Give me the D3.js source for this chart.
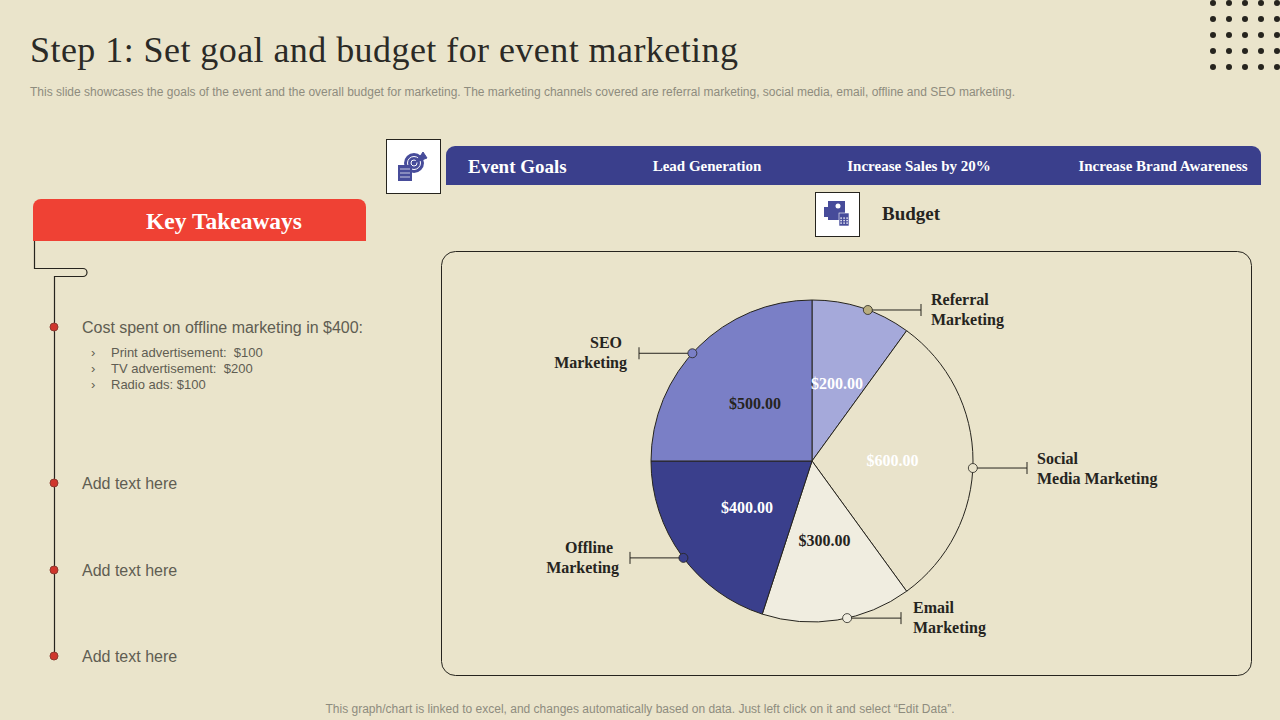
<!DOCTYPE html>
<html lang="en">
<head>
<meta charset="UTF-8">
<title>Step 1: Set goal and budget for event marketing</title>
<script src="https://cdn.jsdelivr.net/npm/d3@7"></script>
<style>
    html, body { margin: 0; padding: 0; background: #EAE4CB; }
    svg { display: block; }
    .serif { font-family: "Liberation Serif", serif; }
    .sans { font-family: "Liberation Sans", Arial, sans-serif; }
</style>
</head>
<body>
<svg id="chart" width="1280" height="720"></svg>
<script>
// chart data
var channels = ['Referral Marketing', 'Social Media Marketing', 'Email Marketing', 'Offline Marketing', 'SEO Marketing'];
var budget = [200, 600, 300, 400, 500];
var sliceColors = ['#A5A9DA', '#E9E3CB', '#F0EDE0', '#3A3F8C', '#7A7FC6'];
var valueColors = ['#FFFFFF', '#FFFFFF', '#26241E', '#FFFFFF', '#26241E'];
var goals = ['Lead Generation', 'Increase Sales by 20%', 'Increase Brand Awareness'];
var takeawayRows = ['Add text here', 'Add text here', 'Add text here'];
var offlineItems = ['Print advertisement:  $100', 'TV advertisement:  $200', 'Radio ads: $100'];

// where each callout sits, same order as channels
var callouts = [
    { angle: 20.3, end: 921, lines: ['Referral', 'Marketing'], x: [931, 931], y: 305, anchor: 'start' },
    { angle: 92.5, end: 1027, lines: ['Social', 'Media Marketing'], x: [1037, 1037], y: 464, anchor: 'start' },
    { angle: 167.4, end: 901, lines: ['Email', 'Marketing'], x: [913, 913], y: 613, anchor: 'start' },
    { angle: 233, end: 630, lines: ['Offline', 'Marketing'], x: [613, 619], y: 553, anchor: 'end' },
    { angle: 312, end: 639, lines: ['SEO', 'Marketing'], x: [622, 627], y: 348, anchor: 'end' }
];

var ink = '#26241E';
var navy = '#3A3F8C';
var svg = d3.select('#chart');

// header
svg.append('text').attr('class', 'serif')
    .attr('x', 30).attr('y', 62)
    .attr('font-size', 36).attr('fill', '#2B2A26')
    .attr('textLength', 708).attr('lengthAdjust', 'spacing')
    .text('Step 1: Set goal and budget for event marketing');

svg.append('text').attr('class', 'sans')
    .attr('x', 30).attr('y', 95.5)
    .attr('font-size', 12).attr('fill', '#8E8C7E')
    .attr('textLength', 985).attr('lengthAdjust', 'spacing')
    .text('This slide showcases the goals of the event and the overall budget for marketing. The marketing channels covered are referral marketing, social media, email, offline and SEO marketing.');

// dot grid top right
var dotX = d3.range(5).map(i => 1213 + i * 16);
var dotY = d3.range(5).map(i => 3 + i * 16);
svg.append('g').selectAll('circle')
    .data(d3.cross(dotX, dotY))
    .join('circle')
    .attr('cx', d => d[0]).attr('cy', d => d[1]).attr('r', 3)
    .attr('fill', '#26241E');

// rectangle with only the top corners rounded
function topRounded(x, y, w, h, r) {
    var p = d3.path();
    p.moveTo(x, y + h);
    p.lineTo(x, y + r);
    p.arcTo(x, y, x + r, y, r);
    p.lineTo(x + w - r, y);
    p.arcTo(x + w, y, x + w, y + r, r);
    p.lineTo(x + w, y + h);
    p.closePath();
    return p.toString();
}

// event goals band
svg.append('path').attr('d', topRounded(446, 146, 815, 39, 9)).attr('fill', navy);
svg.append('text').attr('class', 'serif')
    .attr('x', 468).attr('y', 173)
    .attr('font-size', 19).attr('font-weight', 'bold').attr('fill', '#FFFFFF')
    .text('Event Goals');

var goalX = d3.scaleOrdinal().domain(goals).range([707, 919, 1163]);
svg.append('g').selectAll('text')
    .data(goals)
    .join('text')
    .attr('class', 'serif')
    .attr('x', d => goalX(d)).attr('y', 171)
    .attr('text-anchor', 'middle')
    .attr('font-size', 15).attr('font-weight', 'bold').attr('fill', '#FFFFFF')
    .text(d => d);

// icon boxes
var iconBlue = '#474C9A';
svg.append('rect').attr('x', 386.5).attr('y', 139.5).attr('width', 54).attr('height', 54)
    .attr('fill', '#FFFFFF').attr('stroke', ink);
var target = svg.append('g');
target.append('circle').attr('cx', 414).attr('cy', 163).attr('r', 10).attr('fill', iconBlue);
target.append('circle').attr('cx', 414).attr('cy', 163).attr('r', 6.5).attr('fill', 'none').attr('stroke', '#FFFFFF');
target.append('circle').attr('cx', 414).attr('cy', 163).attr('r', 3).attr('fill', 'none').attr('stroke', '#FFFFFF');
target.append('path').attr('d', 'M414 163L421 155L423 152L427 158Z').attr('fill', iconBlue).attr('stroke', iconBlue);
target.append('rect').attr('x', 398).attr('y', 165).attr('width', 14).attr('height', 16).attr('fill', iconBlue);
target.selectAll('.row').data([169, 173, 177]).join('line')
    .attr('x1', 400).attr('x2', 410).attr('y1', d => d).attr('y2', d => d)
    .attr('stroke', '#FFFFFF').attr('stroke-width', 0.7);

svg.append('rect').attr('x', 815.5).attr('y', 192.5).attr('width', 44).attr('height', 44)
    .attr('fill', '#FFFFFF').attr('stroke', ink);
var calc = svg.append('g');
calc.append('rect').attr('x', 824).attr('y', 207).attr('width', 6).attr('height', 10).attr('fill', iconBlue);
calc.append('rect').attr('x', 828).attr('y', 201).attr('width', 17).attr('height', 19).attr('fill', iconBlue);
calc.append('circle').attr('cx', 838).attr('cy', 206).attr('r', 2.5).attr('fill', '#FFFFFF');
calc.append('rect').attr('x', 839).attr('y', 213).attr('width', 10).attr('height', 13).attr('fill', iconBlue).attr('stroke', '#FFFFFF').attr('stroke-width', 0.6);
calc.selectAll('.key').data(d3.cross([841, 844, 847], [218, 220.5, 223])).join('rect')
    .attr('x', d => d[0] - 0.6).attr('y', d => d[1] - 0.6).attr('width', 1.4).attr('height', 1.4).attr('fill', '#FFFFFF');

svg.append('text').attr('class', 'serif')
    .attr('x', 882).attr('y', 220)
    .attr('font-size', 19).attr('font-weight', 'bold').attr('fill', ink)
    .text('Budget');

// key takeaways
svg.append('path').attr('d', topRounded(33, 199, 333, 42, 8)).attr('fill', '#EF4134');
svg.append('text').attr('class', 'serif')
    .attr('x', 224).attr('y', 229)
    .attr('text-anchor', 'middle')
    .attr('font-size', 23.5).attr('font-weight', 'bold').attr('fill', '#FFFFFF')
    .text('Key Takeaways');

// bracket running from the banner into the timeline
svg.append('path')
    .attr('d', 'M34.5 241V268.5H83A4 4 0 0 1 83 276.5H54.5V656')
    .attr('fill', 'none').attr('stroke', ink).attr('stroke-width', 1.2);

var rowY = [327, 483, 570, 656];
svg.append('g').selectAll('circle')
    .data(rowY)
    .join('circle')
    .attr('cx', 54).attr('cy', d => d).attr('r', 4)
    .attr('fill', '#CF362C').attr('stroke', '#8E3A30').attr('stroke-width', 1);

svg.append('text').attr('class', 'sans')
    .attr('x', 82).attr('y', 333)
    .attr('font-size', 16).attr('fill', '#5F5D52')
    .attr('textLength', 281).attr('lengthAdjust', 'spacing')
    .text('Cost spent on offline marketing in $400:');

var items = svg.append('g').selectAll('g')
    .data(offlineItems)
    .join('g')
    .attr('transform', (d, i) => 'translate(0,' + (357 + i * 16) + ')');
items.append('text').attr('class', 'sans')
    .attr('x', 91).attr('font-size', 13).attr('fill', '#5F5D52').text('›');
items.append('text').attr('class', 'sans')
    .attr('x', 111).attr('font-size', 13).attr('fill', '#5F5D52')
    .style('white-space', 'pre')
    .text(d => d);

svg.append('g').selectAll('text')
    .data(takeawayRows)
    .join('text')
    .attr('class', 'sans')
    .attr('x', 82).attr('y', (d, i) => rowY[i + 1] + 6)
    .attr('font-size', 16).attr('fill', '#5F5D52')
    .text(d => d);

// pie panel
svg.append('rect').attr('x', 441.5).attr('y', 251.5).attr('width', 810).attr('height', 424).attr('rx', 14)
    .attr('fill', 'none').attr('stroke', ink).attr('stroke-width', 1);

var cx = 812, cy = 461, radius = 161;
var rows = channels.map((name, i) => ({ name: name, value: budget[i], color: sliceColors[i], label: valueColors[i], callout: callouts[i] }));
var pie = d3.pie().sort(null).value(d => d.value);
var arc = d3.arc().innerRadius(0).outerRadius(radius);
var labelArc = d3.arc().innerRadius(radius * 0.5).outerRadius(radius * 0.5);
var fmt = d3.format('$,.2f');

var pieG = svg.append('g').attr('transform', 'translate(' + cx + ',' + cy + ')');
var slices = pie(rows);

pieG.selectAll('path')
    .data(slices)
    .join('path')
    .attr('d', arc)
    .attr('fill', d => d.data.color)
    .attr('stroke', ink).attr('stroke-width', 1);

pieG.selectAll('text')
    .data(slices)
    .join('text')
    .attr('class', 'serif')
    .attr('x', d => labelArc.centroid(d)[0])
    .attr('y', d => labelArc.centroid(d)[1] + 5)
    .attr('text-anchor', 'middle')
    .attr('font-size', 16).attr('font-weight', 'bold')
    .attr('fill', d => d.data.label)
    .text(d => fmt(d.data.value));

// callouts
var callG = svg.append('g').selectAll('g')
    .data(rows)
    .join('g');

function px(d) { return cx + radius * Math.sin(d.callout.angle * Math.PI / 180); }
function py(d) { return cy - radius * Math.cos(d.callout.angle * Math.PI / 180); }

callG.append('line')
    .attr('x1', px).attr('y1', py)
    .attr('x2', d => d.callout.end).attr('y2', py)
    .attr('stroke', ink);
callG.append('line')
    .attr('x1', d => d.callout.end).attr('x2', d => d.callout.end)
    .attr('y1', d => py(d) - 6).attr('y2', d => py(d) + 6)
    .attr('stroke', ink);
callG.append('circle')
    .attr('cx', px).attr('cy', py).attr('r', 4.5)
    .attr('fill', d => d.color === '#A5A9DA' ? '#B9AD7E' : d.color)
    .attr('stroke', ink).attr('stroke-width', 0.8);

callG.each(function (d) {
    var g = d3.select(this);
    d.callout.lines.forEach((line, i) => {
        g.append('text').attr('class', 'serif')
            .attr('x', d.callout.x[i]).attr('y', d.callout.y + i * 20)
            .attr('text-anchor', d.callout.anchor)
            .attr('font-size', 16).attr('font-weight', 'bold').attr('fill', ink)
            .text(line);
    });
});

// footer
svg.append('text').attr('class', 'sans')
    .attr('x', 640).attr('y', 713)
    .attr('text-anchor', 'middle')
    .attr('font-size', 12).attr('fill', '#8E8C7E')
    .attr('textLength', 629).attr('lengthAdjust', 'spacing')
    .text('This graph/chart is linked to excel, and changes automatically based on data. Just left click on it and select “Edit Data”.');
</script>
</body>
</html>
